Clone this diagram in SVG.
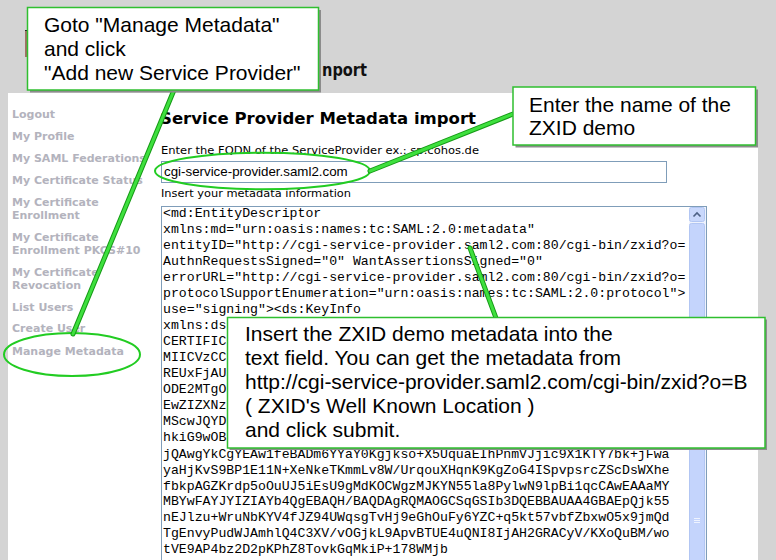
<svg xmlns="http://www.w3.org/2000/svg" width="776" height="560" viewBox="0 0 776 560">
<style>
.side{font-family:"DejaVu Sans",Verdana,sans-serif;font-weight:bold;font-size:11px;fill:#b3b3bd}
.lbl{font-family:"DejaVu Sans",Verdana,sans-serif;font-size:11px;fill:#000}
.mono{font-family:"Liberation Mono","Courier New",monospace;font-size:13.2px;fill:#000}
.call{font-family:"Liberation Sans",Arial,sans-serif;font-size:21px;fill:#000}
.box{fill:#fff;stroke:#2fbf2f;stroke-width:1.5}
.shadow{fill:#8c8c8c}
.hl{fill:none;stroke:#22cc22;stroke-width:2}
.conO{stroke:#169a16;stroke-width:5;stroke-linecap:round}
.conI{stroke:#3ee03e;stroke-width:3;stroke-linecap:round}
</style>
<defs>
<clipPath id="taClip"><rect x="162" y="207" width="527" height="360"/></clipPath>
</defs>
<g id="screenshot">
<rect x="0" y="0" width="776" height="560" fill="#d4d4d4"/>
<rect x="25" y="30" width="5" height="27" fill="#a26f66"/>
<rect x="25" y="30" width="5" height="1" fill="#222"/>
<text x="322" y="76" font-family="DejaVu Sans,Verdana,sans-serif" font-weight="bold" font-size="17" textLength="45" lengthAdjust="spacingAndGlyphs" fill="#111">nport</text>
<rect x="8" y="93" width="750" height="467" fill="#fff"/>
<text class="side" x="12" y="118">Logout</text>
<text class="side" x="12" y="139.5">My Profile</text>
<text class="side" x="12" y="161.5">My SAML Federations</text>
<text class="side" x="12" y="183.5">My Certificate Status</text>
<text class="side" x="12" y="205.5">My Certificate</text>
<text class="side" x="12" y="218.5">Enrollment</text>
<text class="side" x="12" y="240.5">My Certificate</text>
<text class="side" x="12" y="253.5">Enrollment PKCS#10</text>
<text class="side" x="12" y="275.5">My Certificate</text>
<text class="side" x="12" y="288.5">Revocation</text>
<text class="side" x="12" y="310.5">List Users</text>
<text class="side" x="12" y="332">Create User</text>
<text class="side" x="12" y="354.5">Manage Metadata</text>
<text x="160" y="124" font-family="DejaVu Sans,Verdana,sans-serif" font-weight="bold" font-size="16.5" textLength="316" lengthAdjust="spacingAndGlyphs" fill="#000">Service Provider Metadata import</text>
<text class="lbl" x="161" y="154" textLength="318" lengthAdjust="spacingAndGlyphs">Enter the FQDN of the ServiceProvider ex.: sp.cohos.de</text>
<rect x="161.5" y="161.5" width="505" height="21" fill="#fff" stroke="#7f9db9"/>
<text x="164" y="176" font-family="Liberation Sans,Arial,sans-serif" font-size="13.33" fill="#000">cgi-service-provider.saml2.com</text>
<text class="lbl" x="161" y="197" textLength="190" lengthAdjust="spacingAndGlyphs">Insert your metadata information</text>
<rect x="161.5" y="206.5" width="545" height="360" fill="#fff" stroke="#7f9db9"/>
<g clip-path="url(#taClip)">
<text class="mono" x="163" y="217">&lt;md:EntityDescriptor</text>
<text class="mono" x="163" y="233">xmlns:md="urn:oasis:names:tc:SAML:2.0:metadata"</text>
<text class="mono" x="163" y="249">entityID="http://cgi-service-provider.saml2.com:80/cgi-bin/zxid?o=</text>
<text class="mono" x="163" y="265">AuthnRequestsSigned="0" WantAssertionsSigned="0"</text>
<text class="mono" x="163" y="281">errorURL="http://cgi-service-provider.saml2.com:80/cgi-bin/zxid?o=</text>
<text class="mono" x="163" y="297">protocolSupportEnumeration="urn:oasis:names:tc:SAML:2.0:protocol"&gt;</text>
<text class="mono" x="163" y="313">use="signing"&gt;&lt;ds:KeyInfo</text>
<text class="mono" x="163" y="329">xmlns:ds</text>
<text class="mono" x="163" y="345">CERTIFIC</text>
<text class="mono" x="163" y="361">MIICVzCC</text>
<text class="mono" x="163" y="377">REUxFjAU</text>
<text class="mono" x="163" y="393">ODE2MTgO</text>
<text class="mono" x="163" y="409">EwZIZXNz</text>
<text class="mono" x="163" y="425">MScwJQYD</text>
<text class="mono" x="163" y="441">hkiG9wOB</text>
<text class="mono" x="163" y="458">jQAwgYkCgYEAw1feBADm6YYaY0Kgjkso+X5UquaEIhPnmVJjic9X1KTY7bk+jFwa</text>
<text class="mono" x="163" y="473.5">yaHjKvS9BP1E11N+XeNkeTKmmLv8W/UrqouXHqnK9KgZoG4ISpvpsrcZScDsWXhe</text>
<text class="mono" x="163" y="489.5">fbkpAGZKrdp5oOuUJ5iEsU9gMdKOCWgzMJKYN55la8PylwN9lpBi1qcCAwEAAaMY</text>
<text class="mono" x="163" y="505">MBYwFAYJYIZIAYb4QgEBAQH/BAQDAgRQMAOGCSqGSIb3DQEBBAUAA4GBAEpQjk55</text>
<text class="mono" x="163" y="521">nEJlzu+WruNbKYV4fJZ94UWqsgTvHj9eGhOuFy6YZC+q5kt57vbfZbxwO5x9jmQd</text>
<text class="mono" x="163" y="537">TgEnvyPudWJAmhlQ4C3XV/vOGjkL9ApvBTUE4uQNI8IjAH2GRACyV/KXoQuBM/wo</text>
<text class="mono" x="163" y="553">tVE9AP4bz2D2pKPhZ8TovkGqMkiP+178WMjb</text>
</g>
<rect x="689" y="207" width="17" height="360" fill="#eef2fd"/>
<rect x="689.5" y="207.5" width="15" height="14" rx="2" fill="#c9d8fc" stroke="#b2c6f3"/>
<polyline points="693.5,216.5 697,213 700.5,216.5" fill="none" stroke="#4d6185" stroke-width="1.6"/>
<rect x="689.5" y="223.5" width="15" height="345" rx="2" fill="#c4d4fc" stroke="#b2c6f3"/>
<line x1="694" y1="518.5" x2="700" y2="518.5" stroke="#eef3ff"/>
<line x1="694" y1="520.5" x2="700" y2="520.5" stroke="#eef3ff"/>
<line x1="694" y1="522.5" x2="700" y2="522.5" stroke="#eef3ff"/>
</g>
<g id="highlights">
<ellipse class="hl" cx="72" cy="354.5" rx="68" ry="21.5"/>
<ellipse class="hl" cx="262.5" cy="171" rx="107.5" ry="18.3"/>
</g>
<g id="connectors">
<line class="conO" x1="174" y1="90" x2="73" y2="334"/>
<line class="conI" x1="174" y1="90" x2="73" y2="334"/>
<line class="conO" x1="513" y1="114" x2="370" y2="171"/>
<line class="conI" x1="513" y1="114" x2="370" y2="171"/>
<line class="conO" x1="496" y1="318" x2="470" y2="248"/>
<line class="conI" x1="496" y1="318" x2="470" y2="248"/>
</g>
<g id="callout-manage">
<rect class="shadow" x="30" y="10" width="291" height="82.5"/>
<rect class="box" x="27.5" y="7.5" width="291" height="82.5"/>
<text class="call" x="44" y="32">Goto "Manage Metadata"</text>
<text class="call" x="44" y="55.5">and click</text>
<text class="call" x="44" y="79.5">"Add new Service Provider"</text>
</g>
<g id="callout-name">
<rect class="shadow" x="515.5" y="89.5" width="242.5" height="58"/>
<rect class="box" x="513" y="87" width="242.5" height="58"/>
<text class="call" x="529" y="111.5">Enter the name of the</text>
<text class="call" x="529" y="134.5">ZXID demo</text>
</g>
<g id="callout-metadata">
<rect class="shadow" x="229.5" y="319.5" width="537.5" height="130.5"/>
<rect class="box" x="227.5" y="317.5" width="537.5" height="130.5"/>
<text class="call" x="245" y="340.5">Insert the ZXID demo metadata into the</text>
<text class="call" x="245" y="364.5">text field. You can get the metadata from</text>
<text class="call" x="245" y="388.5">http://cgi-service-provider.saml2.com/cgi-bin/zxid?o=B</text>
<text class="call" x="245" y="412.5">( ZXID's Well Known Location )</text>
<text class="call" x="245" y="436.5">and click submit.</text>
</g>
</svg>
